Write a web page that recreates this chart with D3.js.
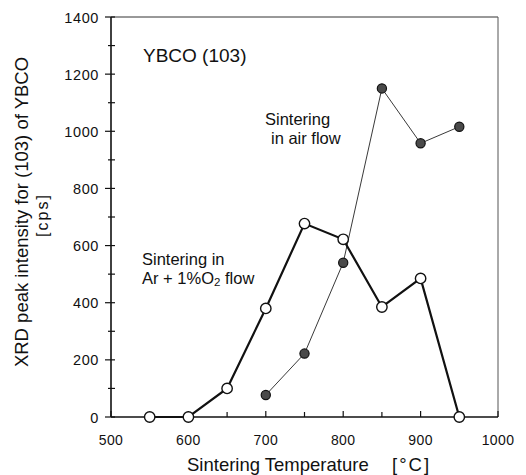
<!DOCTYPE html>
<html><head><meta charset="utf-8">
<script src="https://cdn.jsdelivr.net/npm/d3@7"></script>
<style>body{margin:0;background:#fff}svg{display:block}text{font-family:"Liberation Sans",Arial,sans-serif;fill:#111}</style>
</head><body><svg id="c" width="526" height="475"></svg>
<script>
const temps = [550, 600, 650, 700, 750, 800, 850, 900, 950];
const arO2 = [0, 0, 100, 380, 677, 622, 385, 485, 0];
const airTemps = [700, 750, 800, 850, 900, 950];
const air = [77, 222, 540, 1150, 958, 1016];
const xTicks = [500, 600, 700, 800, 900, 1000];
const yTicks = [0, 200, 400, 600, 800, 1000, 1200, 1400];

const svg = d3.select("#c");
const L = 111, R = 498, T = 17, B = 417;
const x = d3.scaleLinear().domain([500, 1000]).range([L, R]);
const y = d3.scaleLinear().domain([0, 1400]).range([B, T]);

// frame
svg.append("line").attr("x1", L).attr("x2", R).attr("y1", T).attr("y2", T).attr("stroke", "#333").attr("stroke-width", 1);
svg.append("line").attr("x1", R).attr("x2", R).attr("y1", T).attr("y2", B).attr("stroke", "#555").attr("stroke-width", 1);
svg.append("line").attr("x1", L).attr("x2", L).attr("y1", T).attr("y2", B).attr("stroke", "#111").attr("stroke-width", 1.6);
svg.append("line").attr("x1", L).attr("x2", R).attr("y1", B).attr("y2", B).attr("stroke", "#111").attr("stroke-width", 1.6);

// y ticks (crossing axis)
const yMinor = d3.range(0, 1401, 100);
svg.append("g").selectAll("line").data(yMinor).join("line")
  .attr("x1", d => d % 200 === 0 ? L - 6 : L - 3).attr("x2", L + 4).attr("y1", d => y(d)).attr("y2", d => y(d))
  .attr("stroke", "#111").attr("stroke-width", 1.2);
svg.append("g").selectAll("text").data(yTicks).join("text")
  .attr("x", L - 12).attr("y", d => y(d) + 5.5).attr("text-anchor", "end")
  .attr("font-size", 14.5).attr("letter-spacing", 0.6).text(d => d);

// x ticks (inside)
const xMinor = d3.range(500, 1001, 50);
svg.append("g").selectAll("line").data(xMinor).join("line")
  .attr("x1", d => x(d)).attr("x2", d => x(d)).attr("y1", B).attr("y2", d => d % 100 === 0 ? B - 6 : B - 5)
  .attr("stroke", "#111").attr("stroke-width", 1.2);
svg.append("g").selectAll("text").data(xTicks).join("text")
  .attr("x", d => x(d)).attr("y", B + 28).attr("text-anchor", "middle")
  .attr("font-size", 14).attr("letter-spacing", 0.4).text(d => d);

// axis titles
svg.append("text").attr("x", 187).attr("y", 471)
  .attr("font-size", 18.5).text("Sintering Temperature");
svg.append("text").attr("x", 392).attr("y", 471)
  .attr("font-size", 18.5).attr("letter-spacing", 2).text("[°C]");
svg.append("text").attr("transform", "translate(28,212) rotate(-90)").attr("text-anchor", "middle")
  .attr("font-size", 18.5).text("XRD peak intensity for (103) of YBCO");
svg.append("text").attr("transform", "translate(48,215) rotate(-90)").attr("text-anchor", "middle")
  .attr("font-size", 16).attr("letter-spacing", 2).text("[cps]");

const line = d3.line().x(d => x(d[0])).y(d => y(d[1]));
const dAr = temps.map((t, i) => [t, arO2[i]]);
const dAir = airTemps.map((t, i) => [t, air[i]]);

svg.append("path").datum(dAir).attr("d", line).attr("fill", "none").attr("stroke", "#222").attr("stroke-width", 0.9);
svg.append("path").datum(dAr).attr("d", line).attr("fill", "none").attr("stroke", "#111").attr("stroke-width", 2.2);

svg.append("g").selectAll("circle").data(dAir).join("circle")
  .attr("cx", d => x(d[0])).attr("cy", d => y(d[1])).attr("r", 4.6)
  .attr("fill", "#4a4a4a").attr("stroke", "#111").attr("stroke-width", 1.2);
svg.append("g").selectAll("circle").data(dAr).join("circle")
  .attr("cx", d => x(d[0])).attr("cy", d => y(d[1])).attr("r", 5.2)
  .attr("fill", "#fff").attr("stroke", "#111").attr("stroke-width", 1.4);

// annotations
svg.append("text").attr("x", 143).attr("y", 62).attr("font-size", 19).text("YBCO (103)");
svg.append("text").attr("x", 265).attr("y", 125).attr("font-size", 16.5).text("Sintering");
svg.append("text").attr("x", 271).attr("y", 144).attr("font-size", 16.5).text("in air flow");
svg.append("text").attr("x", 142).attr("y", 265).attr("font-size", 16.5).text("Sintering in");
const t2 = svg.append("text").attr("x", 142).attr("y", 284).attr("font-size", 16.5);
t2.append("tspan").text("Ar + 1%O");
t2.append("tspan").attr("font-size", 11.5).attr("dy", 2).text("2");
t2.append("tspan").attr("dy", -2).text(" flow");
</script></body></html>
